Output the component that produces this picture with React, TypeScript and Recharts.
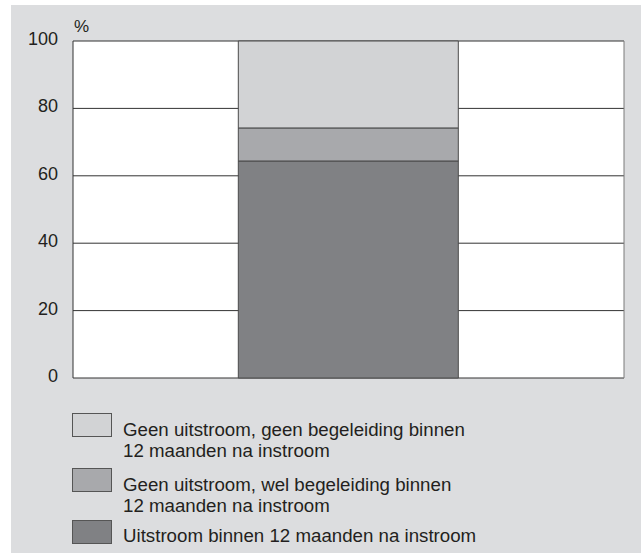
import React from 'react';
import { BarChart, Bar, XAxis, YAxis, CartesianGrid, Label } from 'recharts';

const categories = ['Totaal'];
const uitstroom = [64.4];
const welBegeleiding = [9.8];
const geenBegeleiding = [25.8];
const yTicks = [0, 20, 40, 60, 80, 100];

const series = [
  { key: 'uitstroom', values: uitstroom, color: '#808184', label: ['Uitstroom binnen 12 maanden na instroom'] },
  { key: 'wel', values: welBegeleiding, color: '#a8a9ac', label: ['Geen uitstroom, wel begeleiding binnen', '12 maanden na instroom'] },
  { key: 'geen', values: geenBegeleiding, color: '#d2d3d5', label: ['Geen uitstroom, geen begeleiding binnen', '12 maanden na instroom'] },
];

const data = categories.map((name, i) => {
  const row: Record<string, string | number> = { name };
  series.forEach((s) => {
    row[s.key] = s.values[i];
  });
  return row;
});

const FONT = '"Liberation Sans", Arial, Helvetica, sans-serif';

const YTick = (props: any) => {
  const { x, y, payload } = props;
  return (
    <text x={x} y={y} dy={4} textAnchor="end" fill="#231f20" fontSize={18} fontFamily={FONT}>
      {payload.value}
    </text>
  );
};

const legendTops = [408, 463, 515];

const App: React.FC = () => {
  const legendItems = [...series].reverse();
  return (
    <div
      style={{
        position: 'absolute',
        left: 11,
        top: 5,
        width: 630,
        height: 548,
        background: '#dcdddf',
        fontFamily: FONT,
      }}
    >
      <BarChart
        width={630}
        height={548}
        data={data}
        margin={{ top: 36, right: 17, bottom: 175, left: 12 }}
        barCategoryGap="30%"
      >
        <CartesianGrid vertical={false} stroke="#333" fill="#fff" fillOpacity={1} />
        <CartesianGrid
          horizontal={false}
          stroke="#7a7a7a"
          verticalCoordinatesGenerator={({ offset }: any) => [offset.left + offset.width]}
        />
        <XAxis dataKey="name" hide />
        <YAxis
          width={50}
          domain={[0, 100]}
          ticks={yTicks}
          interval={0}
          tickLine={false}
          tickSize={0}
          tickMargin={15}
          axisLine={{ stroke: '#333' }}
          tick={<YTick />}
        >
          <Label
            content={(p: any) => (
              <text
                x={p.viewBox.x + p.viewBox.width + 1}
                y={p.viewBox.y - 9}
                fill="#231f20"
                fontSize={17}
                fontFamily={FONT}
              >
                %
              </text>
            )}
          />
        </YAxis>
        {series.map((s) => (
          <Bar
            key={s.key}
            dataKey={s.key}
            stackId="a"
            fill={s.color}
            stroke="#4a4a4a"
            strokeWidth={1}
            isAnimationActive={false}
          />
        ))}
      </BarChart>
      {legendItems.map((s, i) => (
        <div key={s.key} style={{ position: 'absolute', left: 61, top: legendTops[i] }}>
          <div
            style={{
              position: 'absolute',
              left: 0,
              top: 0,
              width: 38,
              height: 22,
              background: s.color,
              border: '1px solid #555',
            }}
          />
          <div
            style={{
              position: 'absolute',
              left: 51,
              top: s.label.length > 1 ? 6 : 5,
              fontSize: 18.7,
              lineHeight: '21px',
              color: '#231f20',
              whiteSpace: 'nowrap',
            }}
          >
            {s.label.map((l) => (
              <div key={l}>{l}</div>
            ))}
          </div>
        </div>
      ))}
    </div>
  );
};

export default App;
